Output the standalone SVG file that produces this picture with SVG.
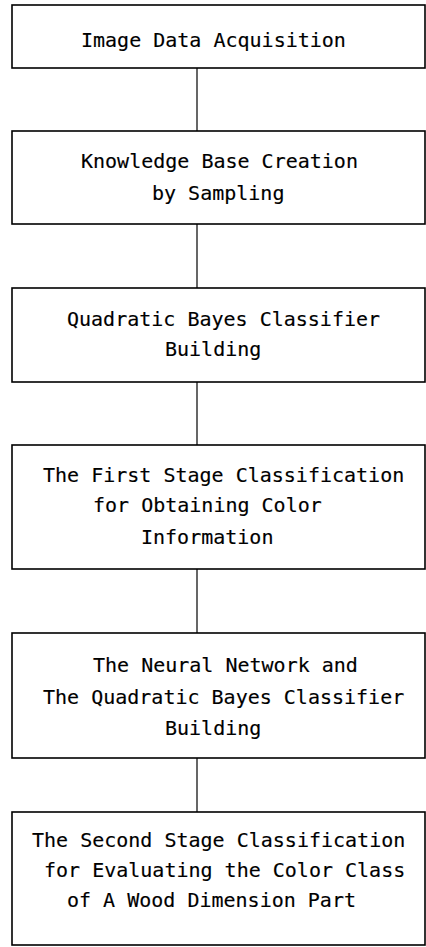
<svg xmlns="http://www.w3.org/2000/svg" width="426" height="947" viewBox="0 0 426 947">
  <style>
    .box { fill: #ffffff; stroke: #000000; stroke-width: 1.6; }
    .link { stroke: #000000; stroke-width: 1.2; fill: none; }
    .lbl { font-family: "DejaVu Sans Mono", "Liberation Mono", monospace; font-size: 20px; fill: #000000; stroke: #000000; stroke-width: 0.15; }
  </style>
  <rect x="0" y="0" width="426" height="947" fill="#ffffff"/>

  <!-- vertical connectors between the stages -->
  <g id="connectors">
    <line class="link" x1="197" y1="68" x2="197" y2="131"/>
    <line class="link" x1="197" y1="224" x2="197" y2="288"/>
    <line class="link" x1="197" y1="382" x2="197" y2="445"/>
    <line class="link" x1="197" y1="569" x2="197" y2="633"/>
    <line class="link" x1="197" y1="758" x2="197" y2="812"/>
  </g>

  <g id="acquisition">
    <rect class="box" x="12" y="5" width="413" height="63"/>
    <text class="lbl" x="81" y="47">Image Data Acquisition</text>
  </g>

  <g id="knowledge-base">
    <rect class="box" x="12" y="131" width="413" height="93"/>
    <text class="lbl" x="81" y="168">Knowledge Base Creation</text>
    <text class="lbl" x="152" y="200">by Sampling</text>
  </g>

  <g id="bayes-building">
    <rect class="box" x="12" y="288" width="413" height="94"/>
    <text class="lbl" x="67" y="326">Quadratic Bayes Classifier</text>
    <text class="lbl" x="165" y="356">Building</text>
  </g>

  <g id="first-stage">
    <rect class="box" x="12" y="445" width="413" height="124"/>
    <text class="lbl" x="43" y="482">The First Stage Classification</text>
    <text class="lbl" x="93" y="512">for Obtaining Color</text>
    <text class="lbl" x="141" y="544">Information</text>
  </g>

  <g id="network-building">
    <rect class="box" x="12" y="633" width="413" height="125"/>
    <text class="lbl" x="93" y="672">The Neural Network and</text>
    <text class="lbl" x="43" y="704">The Quadratic Bayes Classifier</text>
    <text class="lbl" x="165" y="735">Building</text>
  </g>

  <g id="second-stage">
    <rect class="box" x="12" y="812" width="413" height="133"/>
    <text class="lbl" x="32" y="847">The Second Stage Classification</text>
    <text class="lbl" x="44" y="877">for Evaluating the Color Class</text>
    <text class="lbl" x="67" y="907">of A Wood Dimension Part</text>
  </g>
</svg>
